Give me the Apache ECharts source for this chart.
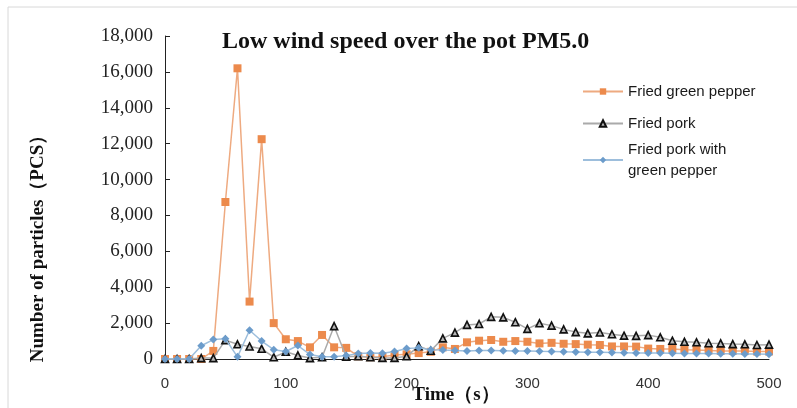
<!DOCTYPE html>
<html>
<head>
<meta charset="utf-8">
<script src="https://cdn.jsdelivr.net/npm/echarts@6/dist/echarts.min.js"></script>
<style>
html,body{margin:0;padding:0;background:#fff;}
#chart{width:797px;height:408px;}
</style>
</head>
<body>
<div id="chart"></div>
<script>
var times = [0,10,20,30,40,50,60,70,80,90,100,110,120,130,140,150,160,170,180,190,200,210,220,230,240,250,260,270,280,290,300,310,320,330,340,350,360,370,380,390,400,410,420,430,440,450,460,470,480,490,500];
var greenPepper = [0,0,0,0,450,8750,16200,3200,12250,2000, 1100,1000,650,1340,650,620,150,100,130,220, 260,330,400,650,560,930,1020,1060,960,1000, 960,870,900,850,830,800,780,700,700,690, 580,560,560,520,500,480,450,450,440,420, 420];
var pork = [0,0,0,50,50,1050,820,700,570,100, 400,200,50,100,1830,130,150,100,60,60, 150,720,460,1150,1470,1900,1950,2350,2320,2050, 1680,1990,1860,1650,1500,1430,1480,1380,1300,1290, 1330,1210,1020,960,930,880,870,830,820,780, 800];
var porkPepper = [0,0,0,740,1080,1130,120,1600,1000,520, 420,750,250,120,130,190,300,330,320,420, 580,620,520,500,480,450,470,470,460,450, 450,430,420,400,390,380,370,360,350,340, 340,330,320,310,300,300,290,290,280,280, 270];
var yTicks = [0,2000,4000,6000,8000,10000,12000,14000,16000,18000];
var xTicks = [0,100,200,300,400,500];
var names = ['Fried green pepper','Fried pork','Fried pork with\ngreen pepper'];
var titleText = 'Low wind speed over the pot PM5.0';
var yName = 'Number of particles（PCS）';
var xName = 'Time（s）';

function pairs(vals){ return times.map(function(t,i){ return [t, vals[i]]; }); }
function fmt(v){ return String(v).replace(/\B(?=(\d{3})+(?!\d))/g, ','); }

var chart = echarts.init(document.getElementById('chart'), null, {renderer:'canvas'});
var legendBase = {
  orient:'vertical', left:582, itemWidth:40, itemHeight:8, itemGap:0, padding:0,
  textStyle:{fontFamily:'Liberation Sans, Arial, sans-serif', fontSize:15, color:'#1a1a1a', lineHeight:21}
};
chart.setOption({
  backgroundColor:'#fff',
  animation:false,
  title:{text:titleText, left:222, top:30, padding:0,
    textStyle:{fontFamily:'Liberation Serif, Times New Roman, serif', fontWeight:'bold', fontSize:24, color:'#111'}},
  legend:[
    Object.assign({}, legendBase, {top:81, data:[names[0]]}),
    Object.assign({}, legendBase, {top:113, data:[names[1]]}),
    Object.assign({}, legendBase, {top:139, data:[names[2]]})
  ],
  grid:{left:165, right:28, top:36, bottom:49},
  xAxis:{type:'value', min:xTicks[0], max:xTicks[xTicks.length-1], interval:100,
    axisLine:{lineStyle:{color:'#222', width:1}},
    axisTick:{show:false}, splitLine:{show:false},
    axisLabel:{fontFamily:'Liberation Sans, Arial, sans-serif', fontSize:15, color:'#333', margin:17}},
  yAxis:{type:'value', min:yTicks[0], max:yTicks[yTicks.length-1], interval:2000,
    axisLine:{show:true, lineStyle:{color:'#222', width:1}},
    axisTick:{show:true, inside:true, length:5, lineStyle:{color:'#222'}},
    splitLine:{show:false},
    axisLabel:{formatter:fmt, fontFamily:'Liberation Serif, Times New Roman, serif', fontSize:19, color:'#222', margin:12}},
  graphic:[
    {type:'rect', shape:{x:8, y:7, width:800, height:420}, style:{fill:'none', stroke:'#d8d8d8', lineWidth:1}, silent:true, z:-1},
    {type:'text', x:38, y:244, rotation:Math.PI/2,
      style:{text:yName, align:'center', verticalAlign:'middle', fill:'#111',
        font:'bold 19px "Liberation Serif", "Times New Roman", serif'}},
    {type:'text', x:456, y:395,
      style:{text:xName, align:'center', verticalAlign:'middle', fill:'#111',
        font:'bold 19px "Liberation Serif", "Times New Roman", serif'}}
  ],
  series:[
    {name:names[0], type:'line', data:pairs(greenPepper), symbol:'rect', symbolSize:8,
      itemStyle:{color:'#EC8A4C'}, lineStyle:{color:'#EEAA80', width:1.5}, z:2},
    {name:names[1], type:'line', data:pairs(pork), symbol:'triangle', symbolSize:7,
      itemStyle:{color:'#b8b8b8', borderColor:'#111', borderWidth:1.6}, lineStyle:{color:'#aaaaaa', width:1.5}, z:3},
    {name:names[2], type:'line', data:pairs(porkPepper), symbol:'diamond', symbolSize:8,
      itemStyle:{color:'#6C9CCB'}, lineStyle:{color:'#9DBEDC', width:1.5}, z:4}
  ]
});
</script>
</body>
</html>
